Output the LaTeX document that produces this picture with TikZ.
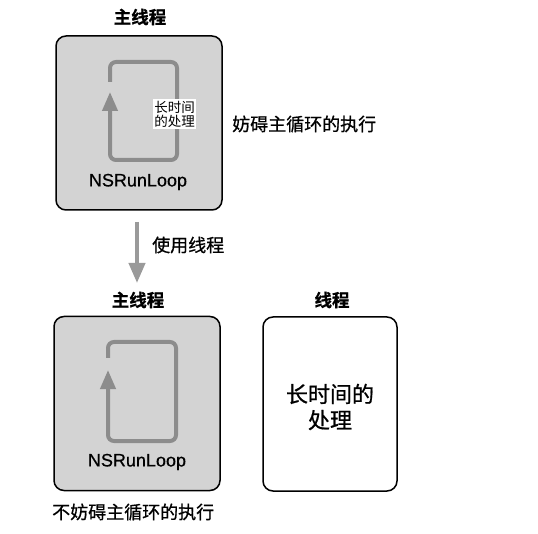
\documentclass[tikz,border=0pt]{standalone}
\usepackage{fontspec}
\setmainfont{Liberation Sans}
\newfontfamily\rlfont[FakeBold=0.6]{Liberation Sans}
\newfontfamily\cjk[FakeBold=0.8]{Noto Sans CJK SC}
\newfontfamily\cjkr{Noto Sans CJK SC}
\newfontfamily\cjkb[FakeBold=0.8]{Noto Sans CJK SC Bold}
\usetikzlibrary{arrows.meta}
\definecolor{boxgray}{HTML}{D3D3D3}
\definecolor{loopgray}{HTML}{8C8C8C}
\definecolor{arrowgray}{HTML}{9A9A9A}
\begin{document}
\begin{tikzpicture}[x=1pt,y=-1pt,
  threadbox/.style={draw=black,line width=1.5pt,rounded corners=10pt,minimum width=166pt,minimum height=174pt,inner sep=0pt},
  title/.style={font=\cjkb\fontsize{17.5}{20}\selectfont,inner sep=1pt},
  label/.style={font=\cjk\fontsize{18}{20}\selectfont,inner sep=1pt},
  loopline/.style={draw=loopgray,line width=4pt,rounded corners=6pt,-{Triangle[width=15pt,length=19pt]}},
  rl/.style={font=\rlfont\fontsize{18}{20}\selectfont,inner sep=1pt}]
\useasboundingbox (0,0) rectangle (538,534);
% top
\node[title] (t1) at (140,17) {主线程};
\node[threadbox,fill=boxgray] (b1) at (139,123) {};
\draw[loopline] (110,82) -- (110,62) -- (177,62) -- (177,160) -- (110,160) -- (110,92);
\node[fill=white,inner sep=1.5pt,align=left,font=\cjkr\fontsize{13.5}{14}\selectfont] (p1) at (174.5,114) {长时间\\的处理};
\node[rl] (r1) at (138,182) {NSRunLoop};
\node[label,anchor=west] (m1) at (231,124) {妨碍主循环的执行};
% arrow
\coordinate (a1) at (137,222);
\coordinate (a2) at (137,283);
\draw[draw=arrowgray,line width=4pt,-{Triangle[width=16pt,length=20pt]}] (a1) -- (a2);
\node[label,anchor=west] (u1) at (151,245) {使用线程};
% bottom
\node[title] (t2) at (138,300) {主线程};
\node[title] (t3) at (332,300) {线程};
\node[threadbox,fill=boxgray] (b2) at (137,403.5) {};
\draw[loopline] (108,358) -- (108,342) -- (176,342) -- (176,441) -- (108,441) -- (108,370);
\node[rl] (r2) at (137,462) {NSRunLoop};
\node[threadbox,minimum width=134pt,minimum height=174pt] (b3) at (330,404) {};
\node[font=\cjk\fontsize{22}{26}\selectfont,align=center] (p2) at (330,407) {长时间的\\处理};
\node[label,anchor=west] (m2) at (51,512) {不妨碍主循环的执行};
\end{tikzpicture}
\end{document}
